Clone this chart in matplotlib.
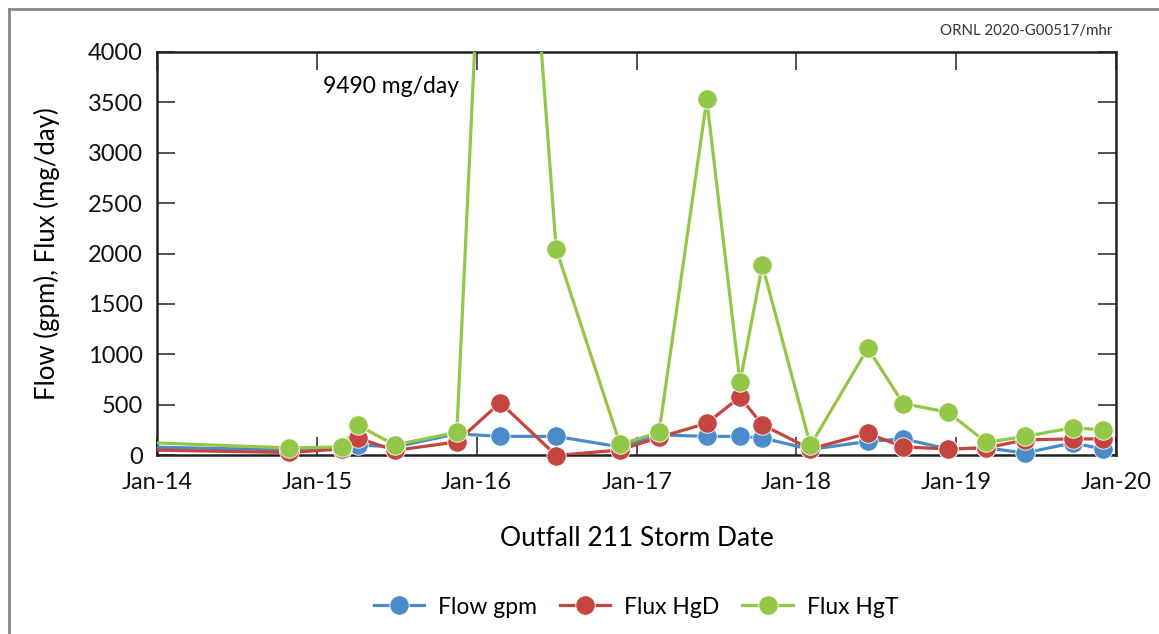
import numpy as np
import pandas as pd
import matplotlib
matplotlib.use("Agg")
import matplotlib.pyplot as plt
import matplotlib.dates as mdates
from matplotlib.lines import Line2D

plt.rcParams['font.family'] = ['Lato', 'DejaVu Sans']

# storm dates (first one lies just before the plotted window)
dates = ['2013-10-01', '2014-10-30', '2015-02-28', '2015-04-05', '2015-06-28',
         '2015-11-17', '2016-02-24', '2016-07-01', '2016-11-24', '2017-02-21',
         '2017-06-10', '2017-08-25', '2017-10-15', '2018-02-02', '2018-06-13',
         '2018-09-02', '2018-12-13', '2019-03-11', '2019-06-07', '2019-09-24',
         '2019-12-02']
flow_gpm = [85, 50, 60, 100, 80, 210, 185, 185, 80, 200, 185, 185, 170, 55, 135,
            160, 60, 70, 20, 120, 60]
flux_hgd = [55, 25, 60, 170, 45, 130, 520, -5, 50, 175, 315, 575, 300, 60, 215,
            80, 60, 70, 150, 160, 160]
flux_hgt = [135, 70, 80, 295, 100, 225, 9490, 2045, 105, 225, 3530, 720, 1885,
            95, 1060, 510, 425, 125, 185, 270, 250]

labels = ['Flow gpm', 'Flux HgD', 'Flux HgT']
colors = ['#4a8bca', '#c4463f', '#92c748']
x_ticks = ['2014-01-01', '2015-01-01', '2016-01-01', '2017-01-01',
           '2018-01-01', '2019-01-01', '2020-01-01']

x = pd.to_datetime(dates)
xmin, xmax = pd.Timestamp(x_ticks[0]), pd.Timestamp(x_ticks[-1])

fig = plt.figure(figsize=(11.59, 6.34), dpi=100)
ax = fig.add_axes([157/1159, 1-455/634, (1116-157)/1159, (455-52)/634])

for vals, lab, col in zip([flow_gpm, flux_hgd, flux_hgt], labels, colors):
    vals = np.array(vals, dtype=float)
    ax.plot(x, vals, color=col, lw=2.3, zorder=3)
    show = (x >= xmin) & (vals <= 4000)
    ax.plot(x[show], vals[show], 'o', color=col, ms=14, mec='white', mew=0.6,
            clip_on=False, zorder=4)

ax.set_xlim(xmin, xmax)
ax.set_ylim(0, 4000)
ax.set_yticks(np.arange(0, 4001, 500))
ax.set_xticks(pd.to_datetime(x_ticks))
ax.xaxis.set_major_formatter(mdates.DateFormatter('%b-%y'))
ax.tick_params(direction='in', length=13, width=1.1, labelsize=17,
               top=True, right=True, colors='#222222', labelcolor='#111111')
ax.tick_params(axis='x', pad=12)
ax.tick_params(axis='y', pad=10)
for s in ax.spines.values():
    s.set_linewidth(1.8)
    s.set_color('#222222')

ax.set_xlabel('Outfall 211 Storm Date', fontsize=19, labelpad=24)
ax.set_ylabel('Flow (gpm), Flux (mg/day)', fontsize=18.5, labelpad=20)

ax.text(pd.Timestamp('2015-01-15'), 3660, '9490 mg/day', fontsize=16.5,
        ha='left', va='center')

handles = [Line2D([], [], color=c, lw=2.3, marker='o', ms=14, mec='white', mew=0.6)
           for c in colors]
fig.legend(handles, labels, loc='center', bbox_to_anchor=(636/1159, 1-607/634),
           ncol=3, frameon=False, fontsize=16.5, handlelength=2.2, columnspacing=1.0,
           handletextpad=0.6)

fig.text(1112/1159, 1-31/634, 'ORNL 2020-G00517/mhr', fontsize=10.8,
         ha='right', va='center', color='#333333')

# grey frame on the top and left of the original image
fig.add_artist(Line2D([9/1159, 1], [1-9/634, 1-9/634], color='#888888', lw=2))
fig.add_artist(Line2D([9/1159, 9/1159], [0, 1-9/634], color='#888888', lw=2))

fig.savefig('out.png', dpi=100)
